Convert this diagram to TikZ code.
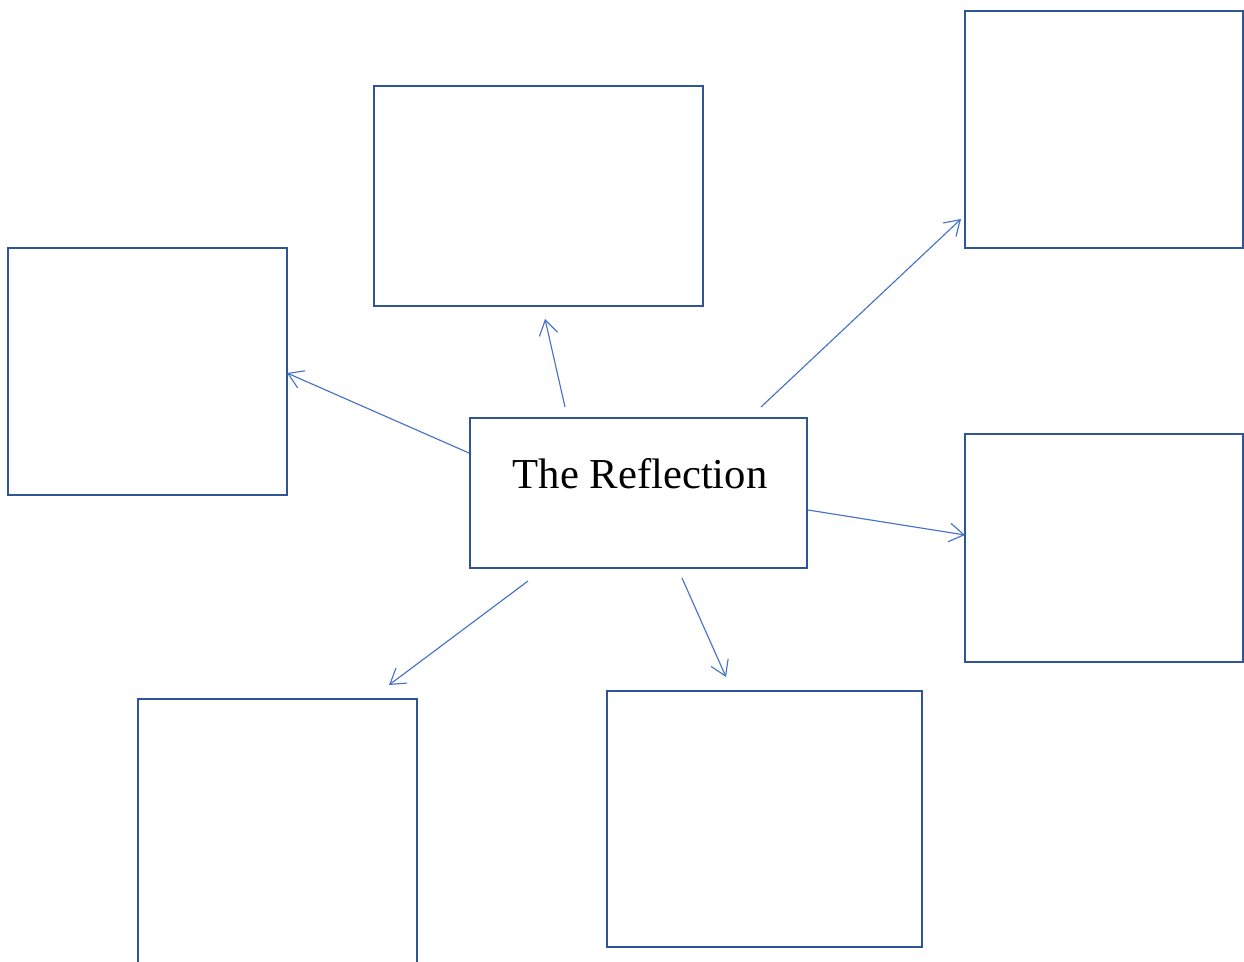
\documentclass[tikz,border=0pt]{standalone}
\usepackage{fontspec}
\setmainfont{Liberation Serif}
\usetikzlibrary{arrows.meta}
\definecolor{boxblue}{HTML}{2F5597}
\definecolor{arrblue}{HTML}{4472C4}
\tikzset{
  box/.style={draw=boxblue, line width=1.7pt, rectangle, inner sep=0pt, fill=none},
  conn/.style={draw=arrblue, line width=0.85pt, -{Straight Barb[length=11pt, width=14pt, line width=0.85pt]}},
}
\begin{document}
\begin{tikzpicture}[x=0.75pt, y=-0.75pt]
\useasboundingbox (0,0) rectangle (1244,961);
% boxes
\node[box, minimum width=329*0.75pt, minimum height=220*0.75pt] (top) at (538.5,196) {};
\node[box, minimum width=278*0.75pt, minimum height=237*0.75pt] (topright) at (1104,129.5) {};
\node[box, minimum width=279*0.75pt, minimum height=247*0.75pt] (left) at (147.5,371.5) {};
\node[box, minimum width=337*0.75pt, minimum height=150*0.75pt] (center) at (638.5,493) {};
\node[box, minimum width=278*0.75pt, minimum height=228*0.75pt] (right) at (1104,548) {};
\node[box, minimum width=279*0.75pt, minimum height=320*0.75pt] (botleft) at (277.5,859) {};
\node[box, minimum width=315*0.75pt, minimum height=256*0.75pt] (botcenter) at (764.5,819) {};
% title
\node[inner sep=0pt, anchor=base, font=\fontsize{32pt}{38pt}\selectfont] (title) at (640,488) {The Reflection};
% connector ends
\coordinate (s1) at (565,407);   \coordinate (e1) at (545,319);
\coordinate (s2) at (761,407);   \coordinate (e2) at (961,219);
\coordinate (s3) at (469,453);   \coordinate (e3) at (287,373);
\coordinate (s4) at (808,510);   \coordinate (e4) at (965,535);
\coordinate (s5) at (528,581);   \coordinate (e5) at (389,685);
\coordinate (s6) at (682,578);   \coordinate (e6) at (726,677);
\draw[conn] (s1) -- (e1);
\draw[conn] (s2) -- (e2);
\draw[conn] (s3) -- (e3);
\draw[conn] (s4) -- (e4);
\draw[conn] (s5) -- (e5);
\draw[conn] (s6) -- (e6);
\end{tikzpicture}
\end{document}
